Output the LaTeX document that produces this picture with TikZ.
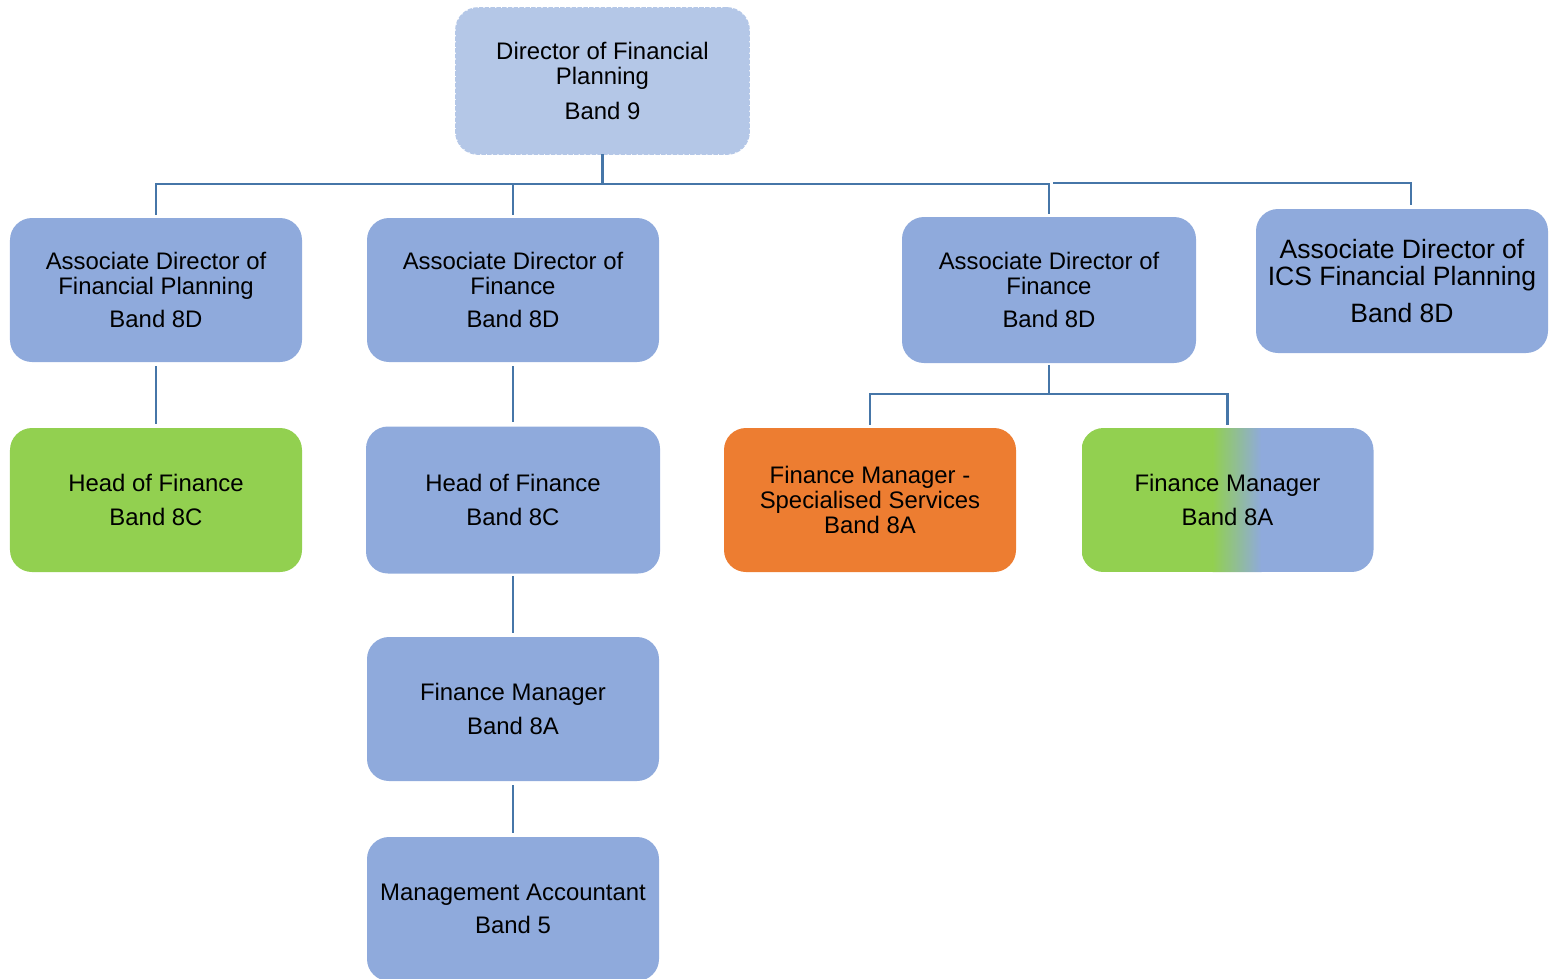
\documentclass[tikz,border=0pt]{standalone}
\usepackage{fontspec}
\setmainfont{Liberation Sans}
\usetikzlibrary{calc}
\definecolor{dirblue}{HTML}{B4C7E7}
\definecolor{adblue}{HTML}{8FAADC}
\definecolor{hofgreen}{HTML}{92D050}
\definecolor{fmorange}{HTML}{ED7D31}
\definecolor{linkblue}{HTML}{4676A8}

\tikzset{
  post/.style={rectangle, rounded corners=0.44cm, minimum width=5.84cm,
    minimum height=2.88cm, inner sep=2pt, outer sep=0pt, align=center,
    font=\fontsize{13.6}{14.2}\selectfont, text=black},
  dirpost/.style={post, fill=dirblue, draw=dirblue, line width=1pt,
    dash pattern=on 2.6pt off 0.7pt, minimum width=5.86cm, minimum height=2.92cm},
  adpost/.style={post, fill=adblue},
  hofpost/.style={post, fill=hofgreen},
  fmpost/.style={post, fill=fmorange},
  mixpost/.style={post, path picture={
      \fill[hofgreen, sharp corners] (path picture bounding box.south west)
        rectangle ([xshift=-0.29cm]path picture bounding box.north);
      \shade[left color=hofgreen, right color=adblue, sharp corners]
        ([xshift=-0.3cm]path picture bounding box.south)
        rectangle ([xshift=0.68cm]path picture bounding box.north);
      \fill[adblue, sharp corners] ([xshift=0.67cm]path picture bounding box.south)
        rectangle (path picture bounding box.north east);
    }},
  conn/.style={draw=linkblue, line width=1.6pt},
  thinconn/.style={draw=linkblue, line width=0.7pt},
}

\begin{document}
\begin{tikzpicture}
    \useasboundingbox (0,0) rectangle (31.08,-19.56);

    % top
    \node[dirpost] (dir) at (12.05,-1.62) {Director of Financial\\Planning\\[6pt]Band 9};

    % associate directors
    \node[adpost] (ad1) at (3.12,-5.80) {Associate Director of\\Financial Planning\\[5pt]Band 8D};
    \node[adpost] (ad2) at (10.26,-5.80) {Associate Director of\\Finance\\[5pt]Band 8D};
    \node[adpost, minimum width=5.88cm, minimum height=2.92cm] (ad3) at (20.98,-5.80)
        {Associate Director of\\Finance\\[5pt]Band 8D};
    \node[adpost, font=\fontsize{15.1}{15.4}\selectfont] (ics) at (28.04,-5.62)
        {Associate Director of\\ICS Financial Planning\\[6pt]Band 8D};

    % heads of finance and managers
    \node[hofpost] (hof1) at (3.12,-10.0) {Head of Finance\\[5pt]Band 8C};
    \node[adpost, minimum width=5.88cm, minimum height=2.94cm] (hof2) at (10.26,-10.0)
        {Head of Finance\\[5pt]Band 8C};
    \node[fmpost] (fmss) at (17.40,-10.0) {Finance Manager -\\Specialised Services\\Band 8A};
    \node[mixpost] (fmmix) at (24.55,-10.0) {Finance Manager\\[5pt]Band 8A};
    \node[adpost] (fm) at (10.26,-14.18) {Finance Manager\\[5pt]Band 8A};
    \node[adpost] (ma) at (10.26,-18.18) {Management Accountant\\[5pt]Band 5};

    % connectors
    \coordinate (bus) at ($(dir.south)+(0,-0.6)$);
    \draw[conn, shorten >=1.7pt] (dir.south) -- (bus) -| (ad1.north);
    \draw[conn, shorten >=1.7pt] (bus) -| (ad2.north);
    \draw[conn, shorten >=1.7pt] (bus) -| (ad3.north);
    \coordinate (icsbus) at ([xshift=0.08cm,yshift=0.02cm]ad3.north |- bus);
    \draw[thinconn, shorten >=2.3pt] (icsbus) -| ([xshift=0.18cm]ics.north);

    \draw[conn, shorten <=2.3pt, shorten >=2.3pt] (ad1) -- (hof1);
    \draw[conn, shorten <=2.3pt, shorten >=2.3pt] (ad2) -- (hof2);
    \draw[conn, shorten <=1.5pt, shorten >=2.3pt] (hof2) -- (fm);
    \draw[conn, shorten <=2.3pt, shorten >=2.3pt] (fm) -- (ma);

    \coordinate (subbus) at ($(ad3.south)+(0,-0.62)$);
    \draw[conn, shorten >=1.7pt] ([yshift=-1pt]ad3.south) -- (subbus) -| (fmss.north);
    \draw[conn, shorten >=1.7pt] (subbus) -| (fmmix.north);
\end{tikzpicture}
\end{document}
